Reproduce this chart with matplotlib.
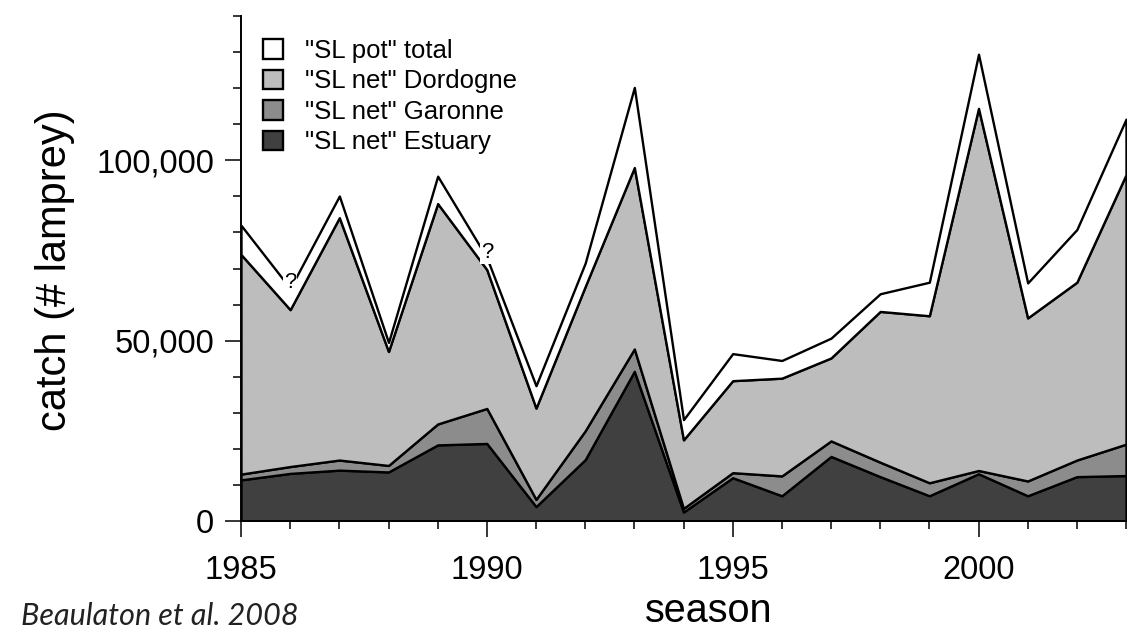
import matplotlib
matplotlib.use("Agg")
import matplotlib.pyplot as plt
from matplotlib.ticker import MultipleLocator, StrMethodFormatter

plt.rcParams['font.family'] = ['Liberation Sans', 'DejaVu Sans']

seasons = list(range(1985, 2004))

# catch per fishery (number of lamprey), stacked from the bottom up
estuary_net = [11400, 13200, 14100, 13600, 21100, 21500, 4000, 17000, 41500, 2500,
               12000, 7000, 17900, 12300, 7000, 13100, 7000, 12300, 12600]
garonne_net = [1600, 1900, 2800, 1800, 5800, 9700, 2000, 8000, 6200, 1000,
               1400, 5500, 4300, 4000, 3600, 900, 4100, 4600, 8700]
dordogne_net = [60900, 43500, 67200, 31600, 61100, 38500, 25300, 40000, 50300, 19000,
                25500, 27100, 23000, 41800, 46300, 100400, 45200, 49300, 74700]
pot_total = [8100, 5900, 6000, 2500, 7600, 3300, 6200, 6500, 22200, 5600,
             7500, 4900, 5500, 4900, 9300, 15000, 9700, 14600, 15400]

series_names = ['"SL net" Estuary', '"SL net" Garonne', '"SL net" Dordogne', '"SL pot" total']
colours = ["#404040", "#8c8c8c", "#bdbdbd", "white"]

# seasons where the pot figure is doubtful
doubtful = [1986, 1990]

fig = plt.figure(figsize=(11.27, 6.3), dpi=100)
ax = fig.add_axes([241 / 1127, 1 - 521 / 630, 885 / 1127, 505 / 630])

polys = ax.stackplot(seasons, estuary_net, garonne_net, dordogne_net, pot_total,
                     colors=colours, edgecolor="black", linewidth=1.7, labels=series_names)

totals = [a + b + c + d for a, b, c, d in zip(estuary_net, garonne_net, dordogne_net, pot_total)]
for yr in doubtful:
    i = seasons.index(yr)
    ax.annotate("?", (yr, totals[i]), xytext=(0, 4), textcoords="offset points",
                ha="center", va="center", fontsize=16,
                bbox=dict(boxstyle="square,pad=0.05", fc="white", ec="none"))

ax.set_xlim(1985, 2003)
ax.set_ylim(0, 140000)
for side in ["top", "right"]:
    ax.spines[side].set_visible(False)
for side in ["left", "bottom"]:
    ax.spines[side].set_linewidth(1.4)

ax.xaxis.set_major_locator(MultipleLocator(5))
ax.xaxis.set_minor_locator(MultipleLocator(1))
ax.yaxis.set_major_locator(MultipleLocator(50000))
ax.yaxis.set_minor_locator(MultipleLocator(10000))
ax.yaxis.set_major_formatter(StrMethodFormatter("{x:,.0f}"))
ax.tick_params(which="major", length=11.5, width=1.1, direction="out", labelsize=23.5)
ax.tick_params(which="minor", length=5.8, width=1.1, direction="out")
ax.tick_params(axis="x", which="major", pad=13)
ax.tick_params(axis="y", which="major", pad=8)

fig.text(55 / 1127, 1 - 270 / 630, "catch (# lamprey)", rotation=90,
         ha="center", va="center", fontsize=30)
fig.text(709 / 1127, 0, "season", ha="center", va="bottom", fontsize=28.5)

handles, labels = ax.get_legend_handles_labels()
ax.legend(handles[::-1], labels[::-1], loc="upper left",
          bbox_to_anchor=(22 / 885, (521 - 39) / 505), frameon=False,
          fontsize=18.5, handlelength=0.78, handleheight=0.78, handletextpad=0.85,
          labelspacing=0.25, borderpad=0, borderaxespad=0)

fig.text(21 / 1127, 0, "Beaulaton et al. 2008", family=["Lato", "DejaVu Sans"],
         style="italic", fontsize=22, color="#222222", ha="left", va="bottom")

fig.savefig("out.png", dpi=100)
